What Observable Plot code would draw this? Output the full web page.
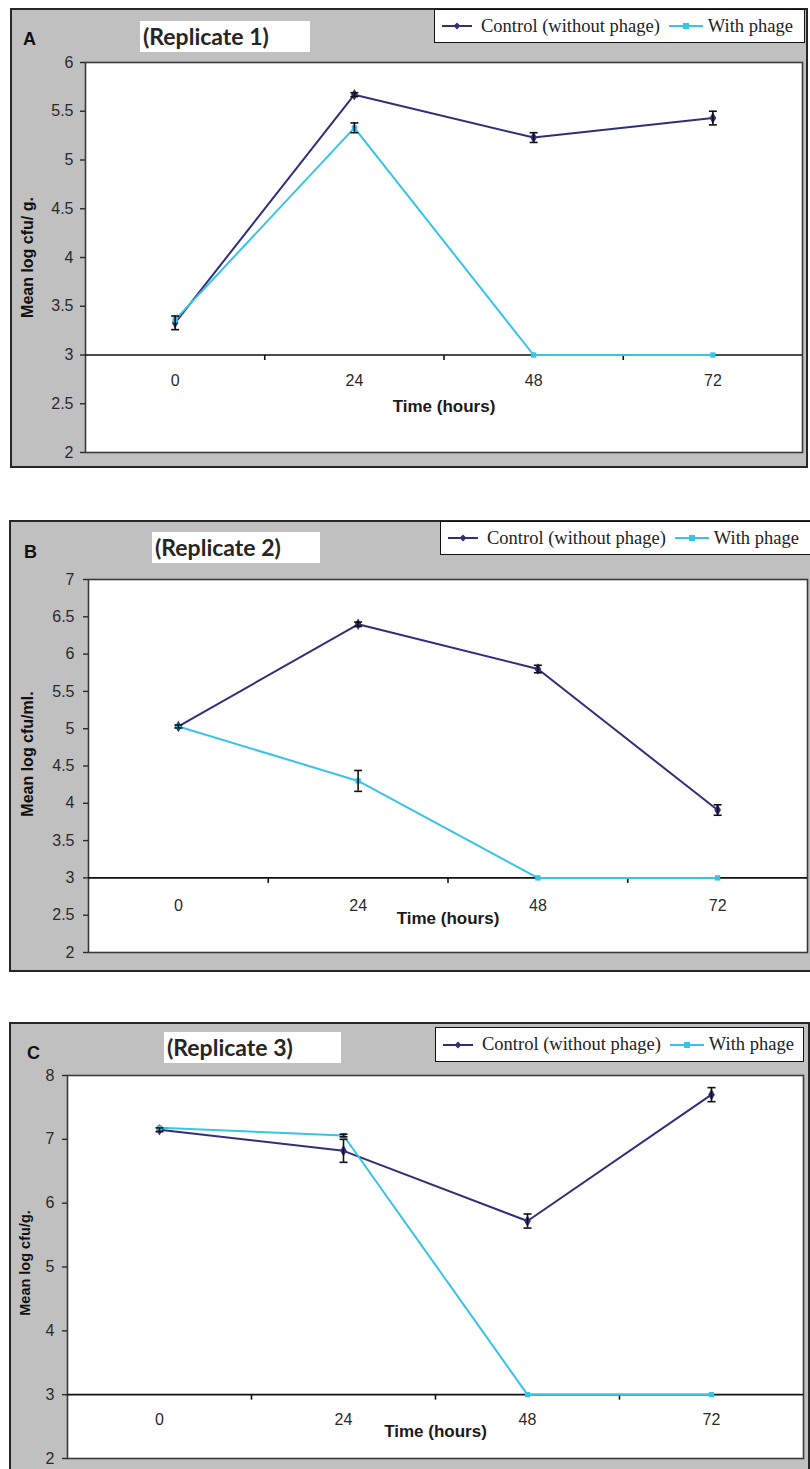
<!DOCTYPE html>
<html><head><meta charset="utf-8">
<script src="https://cdn.jsdelivr.net/npm/d3@7"></script>
<script src="https://cdn.jsdelivr.net/npm/@observablehq/plot@0.6"></script>
<style>
body{margin:0;width:810px;height:1469px;position:relative;overflow:hidden;background:#fff;font-family:"Liberation Sans",Arial,sans-serif;}
.panel{position:absolute;box-sizing:border-box;background:#c0c0c0;border:2px solid #262626;}
.title{position:absolute;background:#fff;font-family:Lato,"Open Sans",sans-serif;font-weight:bold;font-size:23px;color:#262626;box-sizing:border-box;padding-left:3px;line-height:31px;}
.letter{position:absolute;font-weight:bold;font-size:18px;color:#111;line-height:18px;}
.legend{position:absolute;background:#fff;border:1.5px solid #111;box-sizing:border-box;display:flex;align-items:center;font-family:"Liberation Serif","Times New Roman",serif;font-size:18.5px;color:#222;padding-left:7px;white-space:nowrap;}
.legend svg{display:block;}
.plotwrap{position:absolute;left:0;}
</style></head><body>
<script>
// ---- data ----
const hours = [0, 24, 48, 72];
const tickBounds = [12, 36, 60];
const seriesNames = ["Control (without phage)", "With phage"];
const xAxisTitle = "Time (hours)";

const controlA    = [3.33, 5.67, 5.23, 5.43];
const controlErrA = [0.07, 0.02, 0.05, 0.07];
const phageA      = [3.36, 5.33, 3.00, 3.00];
const phageErrA   = [0, 0.05, 0, 0];
const yTicksA     = [2, 2.5, 3, 3.5, 4, 4.5, 5, 5.5, 6];

const controlB    = [5.03, 6.40, 5.80, 3.91];
const controlErrB = [0.02, 0.03, 0.05, 0.07];
const phageB      = [5.03, 4.30, 3.00, 3.00];
const phageErrB   = [0, 0.14, 0, 0];
const yTicksB     = [2, 2.5, 3, 3.5, 4, 4.5, 5, 5.5, 6, 6.5, 7];

const controlC    = [7.15, 6.82, 5.72, 7.70];
const controlErrC = [0.03, 0.18, 0.11, 0.11];
const phageC      = [7.18, 7.06, 3.00, 3.00];
const phageErrC   = [0, 0.02, 0, 0];
const yTicksC     = [2, 3, 4, 5, 6, 7, 8];

const panelLetters = ["A", "B", "C"];
const panelTitles = ["(Replicate 1)", "(Replicate 2)", "(Replicate 3)"];
const yLabels = ["Mean log cfu/ g.", "Mean log cfu/ml.", "Mean log cfu/g."];

const cCol = "#30307a", pCol = "#36c4ea";
const axisFont = "'Liberation Sans Narrow', 'Liberation Sans', Arial, sans-serif";

// ---- layout ----
const panels = [
  {control: controlA, controlErr: controlErrA, phage: phageA, phageErr: phageErrA, yTicks: yTicksA,
   box: [10, 8, 798, 460], title: [140, 21, 170, 31], letter: [23, 30], legend: [434, 9, 371, 34],
   svgTop: 0, h: 470, m: [62, 8, 18, 85], tickDy: 26, xLabelDy: 52, yLabelOff: 58, yLabelDy: 0, yLabelSize: 16, tickPad: 7},
  {control: controlB, controlErr: controlErrB, phage: phageB, phageErr: phageErrB, yTicks: yTicksB,
   box: [9, 520, 812, 452], title: [152, 532, 168, 31], letter: [24, 543], legend: [440, 521, 372, 34],
   svgTop: 500, h: 480, m: [79, 3, 28, 88], tickDy: 28, xLabelDy: 41, yLabelOff: 61, yLabelDy: -12, yLabelSize: 16, tickPad: 9},
  {control: controlC, controlErr: controlErrC, phage: phageC, phageErr: phageErrC, yTicks: yTicksC,
   box: [9, 1022, 801, 460], title: [164, 1032, 177, 31], letter: [27, 1044], legend: [435, 1027, 369, 35],
   svgTop: 1000, h: 469, m: [75, 7, 11, 67], tickDy: 25, xLabelDy: 37, yLabelOff: 42, yLabelDy: -4, yLabelSize: 14.5, tickPad: 8}
];

function swatch(color, sym, w) {
  const c = w / 2;
  const m = sym === "diamond"
    ? `<path d="M${c},1.5 L${c + 3.5},5 L${c},8.5 L${c - 3.5},5Z" fill="${color}"/>`
    : `<rect x="${c - 3}" y="2" width="6" height="6" fill="${color}"/>`;
  return `<svg width="${w}" height="10"><line x1="0" y1="5" x2="${w}" y2="5" stroke="${color}" stroke-width="2"/>${m}</svg>`;
}

const capSym = {draw(ctx, size) { const w = Math.sqrt(size / Math.PI); ctx.moveTo(-w, 0); ctx.lineTo(w, 0); }};
const downTick = {draw(ctx, size) { const l = Math.sqrt(size / Math.PI); ctx.moveTo(0, 0); ctx.lineTo(0, l); }};

panels.forEach((p, k) => {
  const box = document.createElement("div");
  box.className = "panel";
  Object.assign(box.style, {left: p.box[0] + "px", top: p.box[1] + "px", width: p.box[2] + "px", height: p.box[3] + "px"});
  document.body.appendChild(box);

  const rows = hours.map((h, i) => ({h, v: p.control[i], e: p.controlErr[i], s: "c"}))
    .concat(hours.map((h, i) => ({h, v: p.phage[i], e: p.phageErr[i], s: "p"})));
  const ctrl = rows.filter(d => d.s === "c");
  const ph = rows.filter(d => d.s === "p");
  const errs = rows.filter(d => d.e > 0);

  const chart = Plot.plot({
    width: 810, height: p.h,
    marginTop: p.m[0], marginRight: p.m[1], marginBottom: p.m[2], marginLeft: p.m[3],
    x: {domain: [-12, 84], axis: null},
    y: {domain: [p.yTicks[0], p.yTicks[p.yTicks.length - 1]]},
    style: {background: "transparent", overflow: "visible", fontFamily: "'Liberation Sans', Arial, sans-serif"},
    marks: [
      Plot.frame({fill: "white", stroke: "#3a3a3a", strokeWidth: 1.6}),
      Plot.axisY({ticks: p.yTicks, tickFormat: d => String(d), tickSize: 5, tickPadding: p.tickPad, fontSize: 16,
                  fontFamily: axisFont, label: null, color: "#2a2a2a", strokeWidth: 1.4}),
      Plot.ruleY([3], {stroke: "#111", strokeWidth: 1.7}),
      Plot.dot(tickBounds, {x: d => d, y: () => 3, symbol: downTick, r: 5, stroke: "#111", strokeWidth: 1.6, fill: "none"}),
      Plot.text(hours, {x: d => d, y: () => 3, dy: p.tickDy, text: d => String(d), fontSize: 16, fontFamily: axisFont, fill: "#2a2a2a"}),
      Plot.text([xAxisTitle], {x: () => 36, y: () => 3, dy: p.xLabelDy, fontWeight: "bold", fontSize: 17, fontFamily: axisFont, fill: "#1a1a1a"}),
      Plot.text([yLabels[k]], {frameAnchor: "left", rotate: -90, dx: -p.yLabelOff, dy: p.yLabelDy, textAnchor: "middle",
                               fontWeight: "bold", fontSize: p.yLabelSize, fill: "#111"}),
      Plot.line(ctrl, {x: "h", y: "v", stroke: cCol, strokeWidth: 2}),
      Plot.line(ph, {x: "h", y: "v", stroke: pCol, strokeWidth: 2}),
      Plot.dot(ctrl, {x: "h", y: "v", symbol: "diamond", r: 3.5, fill: cCol}),
      Plot.dot(ph, {x: "h", y: "v", symbol: "square", r: 3, fill: pCol}),
      Plot.ruleX(errs, {x: "h", y1: d => d.v - d.e, y2: d => d.v + d.e, stroke: "#111", strokeWidth: 1.6}),
      Plot.dot(errs, {x: "h", y: d => d.v - d.e, symbol: capSym, r: 4, stroke: "#111", strokeWidth: 1.6, fill: "none"}),
      Plot.dot(errs, {x: "h", y: d => d.v + d.e, symbol: capSym, r: 4, stroke: "#111", strokeWidth: 1.6, fill: "none"})
    ]
  });
  const wrap = document.createElement("div");
  wrap.className = "plotwrap";
  wrap.style.top = p.svgTop + "px";
  wrap.appendChild(chart);
  document.body.appendChild(wrap);

  const t = document.createElement("div");
  t.className = "title";
  Object.assign(t.style, {left: p.title[0] + "px", top: p.title[1] + "px", width: p.title[2] + "px", height: p.title[3] + "px"});
  t.textContent = panelTitles[k];
  document.body.appendChild(t);

  const L = document.createElement("div");
  L.className = "letter";
  Object.assign(L.style, {left: p.letter[0] + "px", top: p.letter[1] + "px"});
  L.textContent = panelLetters[k];
  document.body.appendChild(L);

  const lg = document.createElement("div");
  lg.className = "legend";
  Object.assign(lg.style, {left: p.legend[0] + "px", top: p.legend[1] + "px", width: p.legend[2] + "px", height: p.legend[3] + "px"});
  lg.innerHTML = `${swatch(cCol, "diamond", 30)}<span style="margin-left:9px">${seriesNames[0]}</span>` +
    `<span style="margin-left:9px"></span>${swatch(pCol, "square", 34)}<span style="margin-left:5px">${seriesNames[1]}</span>`;
  document.body.appendChild(lg);
});
</script>
</body></html>
